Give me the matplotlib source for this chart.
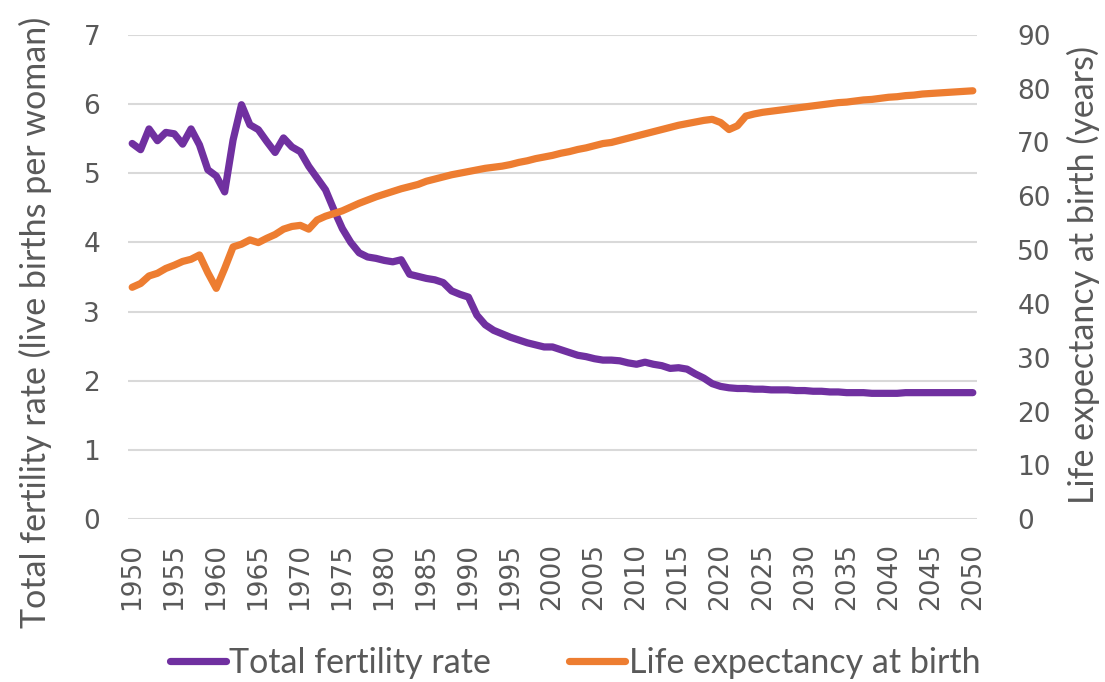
import matplotlib
matplotlib.use("Agg")
import matplotlib.pyplot as plt

years = list(range(1950, 2051))

tfr = [5.43, 5.34, 5.64, 5.47, 5.59, 5.57, 5.42, 5.64, 5.41, 5.05,
       4.96, 4.73, 5.48, 5.99, 5.70, 5.63, 5.46, 5.30, 5.51, 5.38,
       5.31, 5.10, 4.93, 4.76, 4.47, 4.20, 4.00, 3.85, 3.79, 3.77,
       3.74, 3.72, 3.75, 3.54, 3.51, 3.48, 3.46, 3.42, 3.30, 3.25,
       3.21, 2.95, 2.81, 2.73, 2.68, 2.63, 2.59, 2.55, 2.52, 2.49,
       2.49, 2.45, 2.41, 2.37, 2.35, 2.32, 2.30, 2.30, 2.29, 2.26,
       2.24, 2.27, 2.24, 2.22, 2.18, 2.19, 2.17, 2.10, 2.04, 1.96,
       1.92, 1.90, 1.89, 1.89, 1.88, 1.88, 1.87, 1.87, 1.87, 1.86,
       1.86, 1.85, 1.85, 1.84, 1.84, 1.83, 1.83, 1.83, 1.82, 1.82,
       1.82, 1.82, 1.83, 1.83, 1.83, 1.83, 1.83, 1.83, 1.83, 1.83,
       1.83]

life_exp = [43.1, 43.8, 45.2, 45.7, 46.6, 47.2, 47.9, 48.3, 49.1, 45.8,
            42.9, 46.6, 50.6, 51.1, 51.9, 51.4, 52.2, 52.9, 53.9, 54.4,
            54.6, 53.9, 55.6, 56.3, 56.8, 57.3, 58.0, 58.7, 59.3, 59.9,
            60.4, 60.9, 61.4, 61.8, 62.2, 62.8, 63.2, 63.6, 64.0, 64.3,
            64.6, 64.9, 65.2, 65.4, 65.6, 65.9, 66.3, 66.6, 67.0, 67.3,
            67.6, 68.0, 68.3, 68.7, 69.0, 69.4, 69.8, 70.0, 70.4, 70.8,
            71.2, 71.6, 72.0, 72.4, 72.8, 73.2, 73.5, 73.8, 74.1, 74.3,
            73.7, 72.4, 73.1, 74.9, 75.3, 75.6, 75.8, 76.0, 76.2, 76.4,
            76.6, 76.8, 77.0, 77.2, 77.4, 77.5, 77.7, 77.9, 78.0, 78.2,
            78.4, 78.5, 78.7, 78.8, 79.0, 79.1, 79.2, 79.3, 79.4, 79.5,
            79.6]

xticks = list(range(1950, 2051, 5))
left_ticks = list(range(0, 8))
right_ticks = list(range(0, 91, 10))

title_font = "Lato"
tick_font = "DejaVu Sans"

purple = "#7030A0"
orange = "#ED7D31"
grey = "#595959"

W, H = 1105, 682
fig = plt.figure(figsize=(W/100, H/100), dpi=100)
ax = fig.add_axes([128/W, 1-519.3/H, (977-128)/W, (519.3-34.8)/H])
ax2 = ax.twinx()

l1, = ax.plot(years, tfr, color=purple, lw=5.2, solid_capstyle="round", solid_joinstyle="round",
              label="Total fertility rate", zorder=3)
l2, = ax2.plot(years, life_exp, color=orange, lw=5.2, solid_capstyle="round", solid_joinstyle="round",
               label="Life expectancy at birth", zorder=3)

ax.set_xlim(1949.5, 2050.5)
ax.set_ylim(0, 7)
ax2.set_ylim(0, 90)
ax.set_yticks(left_ticks)
ax2.set_yticks(right_ticks)
ax.set_xticks(xticks)
ax.set_xticklabels([str(x) for x in xticks], rotation=90, fontsize=19, color=grey, family=tick_font)
ax.set_yticklabels([str(v) for v in left_ticks], fontsize=19, color=grey, family=tick_font)
ax2.set_yticklabels([str(v) for v in right_ticks], fontsize=19, color=grey, family=tick_font)
ax.tick_params(axis="both", length=0)
ax2.tick_params(axis="both", length=0)
ax.tick_params(axis="y", pad=20)
ax2.tick_params(axis="y", pad=29)
ax.tick_params(axis="x", pad=17)

ax.grid(axis="y", color="#D9D9D9", lw=1.5)
ax.set_axisbelow(True)
for a in (ax, ax2):
    for s in a.spines.values():
        s.set_visible(False)

fig.text(35/W, 1-322/H, "Total fertility rate (live births per woman)", rotation=90,
         ha="center", va="center", fontsize=24.5, color=grey, family=title_font)
fig.text(1083/W, 1-275/H, "Life expectancy at birth (years)", rotation=90,
         ha="center", va="center", fontsize=24.5, color=grey, family=title_font)

fig.legend(handles=[l1, l2], loc="center", bbox_to_anchor=(575/W, 1-663/H), ncol=2, frameon=False,
           prop={"family": title_font, "size": 24.5}, labelcolor=grey, handlelength=1.65,
           handletextpad=0.1, columnspacing=2.3, borderpad=0, borderaxespad=0)

fig.savefig("out.png", dpi=100)
